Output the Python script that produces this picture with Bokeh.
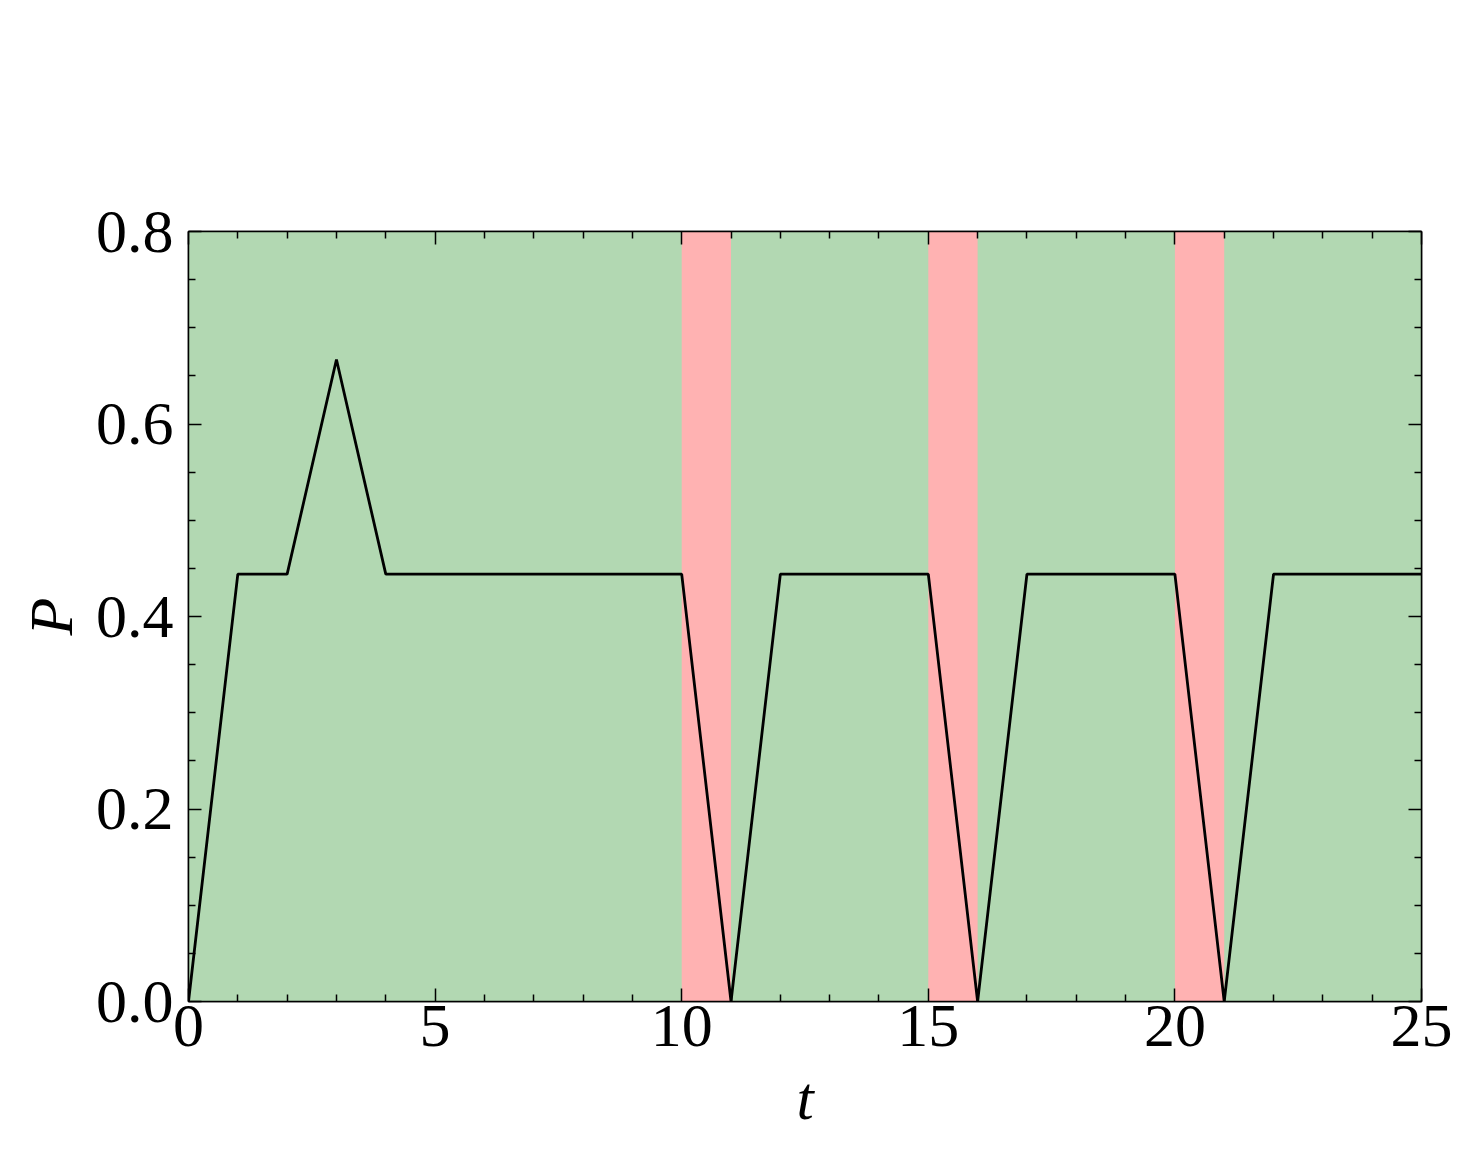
from bokeh.plotting import figure
from bokeh.models import Range1d, LinearAxis, FixedTicker
from bokeh.embed import file_html
from bokeh.resources import INLINE

# data
t = list(range(0, 26))
P = [0.0, 0.444, 0.444, 0.667, 0.444, 0.444, 0.444, 0.444, 0.444, 0.444, 0.444,
     0.0, 0.444, 0.444, 0.444, 0.444, 0.0, 0.444, 0.444, 0.444, 0.444,
     0.0, 0.444, 0.444, 0.444, 0.444]
red_start = [10, 15, 20]
red_end = [11, 16, 21]
green_start = [0]
green_end = [25]
x_ticks = [0, 5, 10, 15, 20, 25]
y_ticks = [0.0, 0.2, 0.4, 0.6, 0.8]
y_tick_labels = {0.0: "0.0", 0.2: "0.2", 0.4: "0.4", 0.6: "0.6", 0.8: "0.8"}

FONT = "Liberation Serif"
FS = "62px"

p = figure(width=1460, height=1140, output_backend="svg", toolbar_location=None,
           x_range=Range1d(0, 25), y_range=Range1d(0, 0.8),
           min_border_left=188, min_border_top=231, min_border_right=39, min_border_bottom=139)
p.xgrid.visible = False
p.ygrid.visible = False
p.background_fill_color = "white"
p.outline_line_color = "black"
p.outline_line_width = 1.5

ymin, ymax = p.y_range.start, p.y_range.end
p.quad(left=green_start, right=green_end, bottom=[ymin], top=[ymax],
       fill_color="#b2d8b2", line_color=None)
p.quad(left=red_start, right=red_end, bottom=[ymin] * len(red_start), top=[ymax] * len(red_start),
       fill_color="#ffb2b2", line_color=None)
p.line(t, P, line_color="black", line_width=2.8)

minor_x = [v for v in range(0, 26) if v % 5 != 0]
minor_y = [round(0.05 * i, 2) for i in range(0, 17) if i % 4 != 0]


def base_style(ax):
    ax.axis_line_color = "black"
    ax.axis_line_width = 1.5
    ax.major_tick_in = 13
    ax.major_tick_out = 0
    ax.minor_tick_in = 7
    ax.minor_tick_out = 0
    ax.major_tick_line_width = 1.5
    ax.minor_tick_line_width = 1.5
    ax.major_label_text_font = FONT
    ax.major_label_text_font_size = FS
    ax.major_label_text_color = "black"
    ax.axis_label_text_font = FONT
    ax.axis_label_text_font_size = FS
    ax.axis_label_text_font_style = "italic"
    ax.axis_label_text_color = "black"


xa = p.xaxis[0]
xa.ticker = FixedTicker(ticks=x_ticks, minor_ticks=minor_x)
ya = p.yaxis[0]
ya.ticker = FixedTicker(ticks=y_ticks, minor_ticks=minor_y)
for ax in (xa, ya):
    base_style(ax)
xa.axis_label = "t"
ya.axis_label = "P"
ya.major_label_overrides = y_tick_labels
xa.major_label_standoff = 4
ya.major_label_standoff = 15
xa.axis_label_standoff = 15
ya.axis_label_standoff = 8

top = LinearAxis(ticker=FixedTicker(ticks=x_ticks, minor_ticks=minor_x))
top.major_label_overrides = {v: "" for v in x_ticks}
right = LinearAxis(ticker=FixedTicker(ticks=y_ticks, minor_ticks=minor_y))
right.major_label_overrides = {v: "" for v in y_ticks}
for ax in (top, right):
    base_style(ax)
    ax.major_label_standoff = 0
p.add_layout(top, "above")
p.add_layout(right, "right")

open("out.html", "w").write(file_html(p, INLINE))
